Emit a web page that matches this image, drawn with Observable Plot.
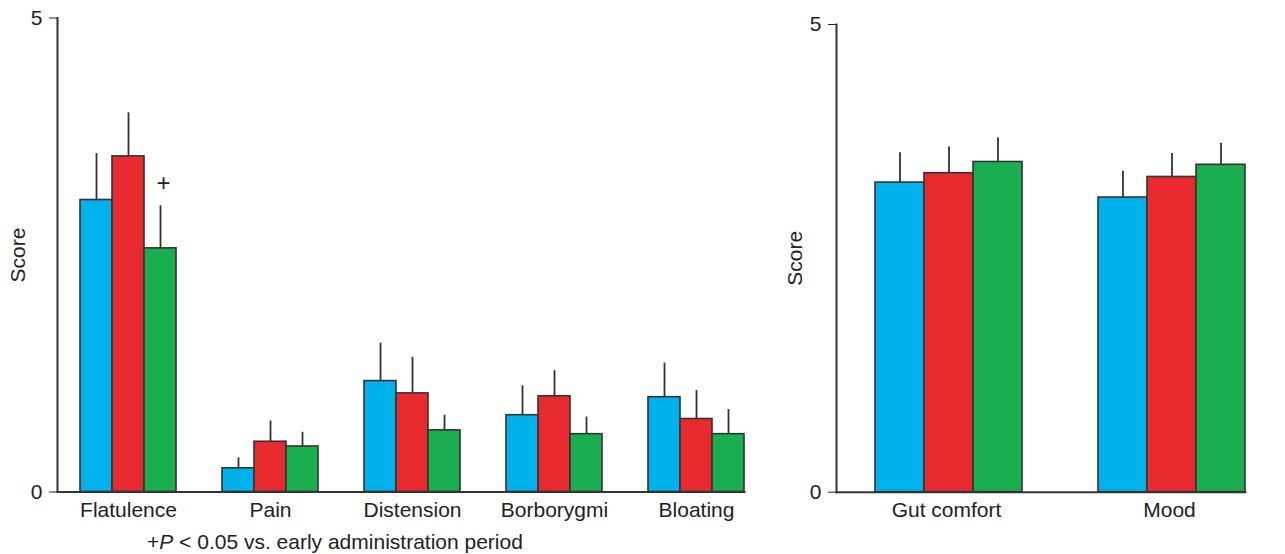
<!DOCTYPE html>
<html><head><meta charset="utf-8">
<script src="https://cdn.jsdelivr.net/npm/d3@7"></script>
<script src="https://cdn.jsdelivr.net/npm/@observablehq/plot@0.6"></script>
<style>
body{margin:0;background:#fff;font-family:"Liberation Sans",Arial,sans-serif;}
#wrap{display:flex;width:1285px;height:554px;position:relative;}
#caption{position:absolute;left:147px;top:530px;font-size:21px;color:#222;white-space:nowrap;}
</style></head><body>
<div id="wrap"><div id="left"></div><div id="right"></div>
<div id="caption">+<i>P</i> &lt; 0.05 vs. early administration period</div></div>
<script>
// ---- data ----
const series = ["Early", "Middle", "Late"];
const seriesColors = ["#00b1eb", "#e8292e", "#1bae50"];

const symptoms = ["Flatulence", "Pain", "Distension", "Borborygmi", "Bloating"];
const symEarly = [3.08, 0.25, 1.17, 0.81, 1.00];
const symMiddle = [3.54, 0.53, 1.04, 1.01, 0.77];
const symLate = [2.57, 0.48, 0.65, 0.61, 0.61];
const symErrEarly = [0.49, 0.11, 0.40, 0.31, 0.36];
const symErrMiddle = [0.46, 0.22, 0.38, 0.27, 0.30];
const symErrLate = [0.45, 0.15, 0.16, 0.18, 0.26];

const wellbeing = ["Gut comfort", "Mood"];
const wbEarly = [3.31, 3.15];
const wbMiddle = [3.41, 3.37];
const wbLate = [3.53, 3.50];
const wbErrEarly = [0.32, 0.28];
const wbErrMiddle = [0.28, 0.25];
const wbErrLate = [0.26, 0.23];

const sigMarks = [{category: "Flatulence", series: "Late", label: "+"}];
const yTicks = [0, 5];
const yLabel = "Score";

// ---- build rows ----
function rows(cats, vals, errs) {
  const out = [];
  cats.forEach((c, i) => series.forEach((s, j) => out.push({category: c, series: s, value: vals[j][i], err: errs[j][i]})));
  return out;
}
const symRows = rows(symptoms, [symEarly, symMiddle, symLate], [symErrEarly, symErrMiddle, symErrLate]);
const wbRows = rows(wellbeing, [wbEarly, wbMiddle, wbLate], [wbErrEarly, wbErrMiddle, wbErrLate]);
const sigRows = sigMarks.map(m => {
  const r = symRows.find(d => d.category === m.category && d.series === m.series);
  return {...m, top: r.value + r.err};
});

const font = '"Liberation Sans", Arial, sans-serif';
const ink = "#333";

function panel(data, cats, o, extra) {
  return Plot.plot({
    width: o.width, height: o.height,
    marginLeft: o.ml, marginRight: o.mr, marginTop: o.mt, marginBottom: o.mb,
    style: {fontFamily: font, fontSize: "21px", color: "#222", background: "transparent", overflow: "visible"},
    fx: {domain: cats, paddingInner: o.pi, paddingOuter: o.po, align: 0, label: null},
    x: {domain: series, paddingInner: 0, paddingOuter: o.px, align: 1, axis: null},
    y: {domain: [0, 5], ticks: yTicks, tickFormat: d3.format("d"), tickSize: 8, tickPadding: 7, label: yLabel, labelAnchor: "center", labelOffset: o.lo, labelArrow: "none"},
    color: {domain: series, range: seriesColors},
    marks: [
      Plot.axisFx({anchor: "bottom", tickSize: 0, tickPadding: 10, dx: o.ldx, label: null}),
      Plot.barY(data, {fx: "category", x: "series", y: "value", fill: "series", stroke: ink, strokeWidth: 1.6}),
      Plot.ruleX(data, {fx: "category", x: "series", y1: "value", y2: d => d.value + d.err, stroke: ink, strokeWidth: 1.8}),
      ...extra,
      Plot.frame({anchor: "left", facet: "super", stroke: ink, strokeWidth: 2}),
      Plot.frame({anchor: "bottom", facet: "super", stroke: ink, strokeWidth: 2})
    ]
  });
}

const left = panel(symRows, symptoms,
  {width: 770, height: 525, ml: 57, mr: 20, mt: 17.5, mb: 33.5, pi: 0.163, po: 0.018, px: 0.359, lo: 47, ldx: 11.5},
  [Plot.text(sigRows, {fx: "category", x: "series", y: "top", text: "label", dy: -22, dx: 3, fontSize: 24, fill: "#222"})]);
const right = panel(wbRows, wellbeing,
  {width: 515, height: 525, ml: 66, mr: 2, mt: 24, mb: 33.3, pi: 0.168, po: 0.082, px: 0.375, lo: 49, ldx: 17},
  []);
document.getElementById("left").appendChild(left);
document.getElementById("right").appendChild(right);
</script>
</body></html>
